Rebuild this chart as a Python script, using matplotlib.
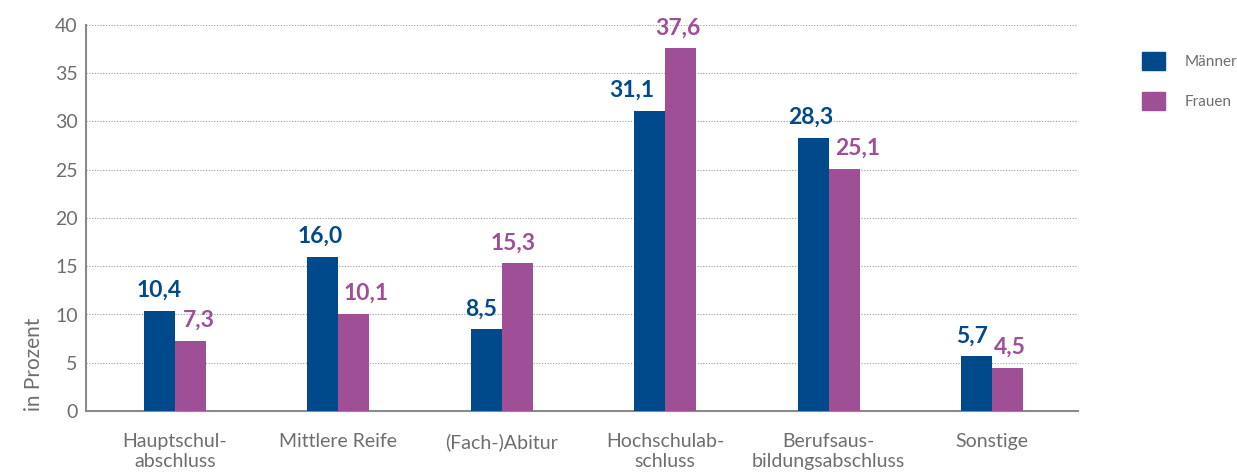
import matplotlib
matplotlib.use("Agg")
import matplotlib.pyplot as plt
from matplotlib.patches import Patch
import numpy as np

categories = ["Hauptschul-\nabschluss", "Mittlere Reife", "(Fach-)Abitur",
              "Hochschulab-\nschluss", "Berufsaus-\nbildungsabschluss", "Sonstige"]
maenner = [10.4, 16.0, 8.5, 31.1, 28.3, 5.7]
frauen = [7.3, 10.1, 15.3, 37.6, 25.1, 4.5]
yticks = [0, 5, 10, 15, 20, 25, 30, 35, 40]

# horizontal label nudges (points), styling only
maenner_dx = [0, -2, -4, -13, -2, -3]
frauen_dx = [6, 9, -3, -2, 10, 2]

BLUE = "#004a8c"
PURPLE = "#9e4f96"
GRAY = "#6e6e6e"

plt.rcParams['font.family'] = ['Lato', 'DejaVu Sans']

fig = plt.figure(figsize=(12.37, 4.73), dpi=100)
ax = fig.add_axes([86/1237, 1-411/473, (1078-86)/1237, (411-25)/473])

x = np.arange(len(categories))
w = 0.19
b1 = ax.bar(x - w/2, maenner, w, color=BLUE, zorder=3)
b2 = ax.bar(x + w/2, frauen, w, color=PURPLE, zorder=3)

def fmt(v):
    return f"{v:.1f}".replace(".", ",")

for rect, v, dx in zip(b1, maenner, maenner_dx):
    ax.annotate(fmt(v), (rect.get_x() + rect.get_width()/2, rect.get_height()),
                xytext=(dx, 7), textcoords="offset points", ha="center", va="bottom",
                color=BLUE, fontsize=16.5, fontweight="bold")
for rect, v, dx in zip(b2, frauen, frauen_dx):
    ax.annotate(fmt(v), (rect.get_x() + rect.get_width()/2, rect.get_height()),
                xytext=(dx, 7), textcoords="offset points", ha="center", va="bottom",
                color=PURPLE, fontsize=16.5, fontweight="bold")

ax.set_xlim(-0.544, 5.526)
ax.set_ylim(0, 40)
ax.set_yticks(yticks)
ax.set_yticklabels([str(t) for t in yticks])
ax.set_xticks(x)
ax.set_xticklabels(categories, linespacing=1.2)
ax.tick_params(axis="both", length=0, labelsize=14, colors=GRAY)
ax.tick_params(axis="x", pad=16)
ax.tick_params(axis="y", pad=6)

ax.yaxis.grid(True, linestyle=(0, (1, 1.5)), color="#9a9a9a", linewidth=0.8, zorder=0)
for s in ["top", "right"]:
    ax.spines[s].set_visible(False)
for s in ["left", "bottom"]:
    ax.spines[s].set_color("#8a8a8a")
    ax.spines[s].set_linewidth(1.5)

ax.set_ylabel("in Prozent", loc="bottom", color=GRAY, fontsize=15, labelpad=8)

handles = [Patch(color=BLUE, label="Männer"), Patch(color=PURPLE, label="Frauen")]
fig.legend(handles=handles, loc="upper left", bbox_to_anchor=(1128/1237, 1-38/473),
           frameon=False, handlelength=1.5, handleheight=1.5, labelspacing=1.4,
           handletextpad=1.3, fontsize=11, labelcolor=GRAY)

fig.savefig("out.png", dpi=100)
